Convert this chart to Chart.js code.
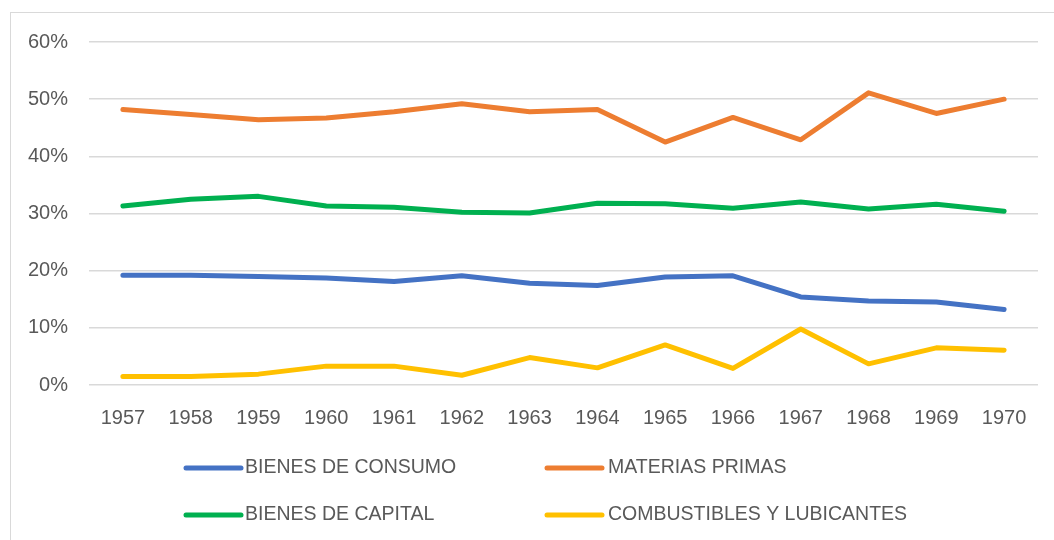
<!DOCTYPE html>
<html>
<head>
<meta charset="utf-8">
<script src="https://cdn.jsdelivr.net/npm/chart.js@4"></script>
<style>
  body { margin: 0; background: #fff; }
  #box {
    position: absolute; left: 10px; top: 12px;
    width: 1043px; height: 527px;
    border-left: 1px solid #d9d9d9; border-top: 1px solid #d9d9d9;
  }
</style>
</head>
<body>
<div id="box"><canvas id="myChart" width="1043" height="527"></canvas></div>
<script>
const years = ['1957', '1958', '1959', '1960', '1961', '1962', '1963', '1964', '1965', '1966', '1967', '1968', '1969', '1970'];
const consumo = [19.2, 19.2, 19.0, 18.7, 18.1, 19.1, 17.8, 17.4, 18.9, 19.1, 15.4, 14.7, 14.5, 13.2];
const materias = [48.2, 47.3, 46.4, 46.7, 47.8, 49.2, 47.8, 48.2, 42.5, 46.8, 42.9, 51.1, 47.5, 50.0];
const capital = [31.3, 32.5, 33.0, 31.3, 31.1, 30.2, 30.1, 31.8, 31.7, 30.9, 32.0, 30.8, 31.6, 30.4];
const combustibles = [1.5, 1.5, 1.9, 3.3, 3.3, 1.7, 4.8, 3.0, 7.0, 2.9, 9.8, 3.7, 6.5, 6.1];
const yTicks = [0, 10, 20, 30, 40, 50, 60];

const textColor = '#595959';
const fontSpec = { family: 'Liberation Sans', size: 20 };

// 2x2 legend like the Excel one
const gridLegend = {
  id: 'gridLegend',
  afterDraw(chart) {
    const c = chart.ctx;
    const cols = [{ line: 175, text: 234 }, { line: 536, text: 597 }];
    const rows = [455, 502];
    c.save();
    c.font = '19.5px "Liberation Sans"';
    c.textBaseline = 'middle';
    chart.data.datasets.forEach((ds, i) => {
      const col = cols[i % 2];
      const y = rows[Math.floor(i / 2)];
      c.strokeStyle = ds.borderColor;
      c.lineWidth = 5;
      c.lineCap = 'round';
      c.beginPath();
      c.moveTo(col.line, y);
      c.lineTo(col.line + 55, y);
      c.stroke();
      c.fillStyle = textColor;
      c.fillText(ds.label, col.text, y);
    });
    c.restore();
  }
};

const ctx = document.getElementById('myChart');

new Chart(ctx, {
  type: 'line',
  data: {
    labels: years,
    datasets: [{
      label: 'BIENES DE CONSUMO',
      data: consumo,
      borderColor: '#4472C4'
    },
    {
      label: 'MATERIAS PRIMAS',
      data: materias,
      borderColor: '#ED7D31'
    },
    {
      label: 'BIENES DE CAPITAL',
      data: capital,
      borderColor: '#00B050'
    },
    {
      label: 'COMBUSTIBLES Y LUBICANTES',
      data: combustibles,
      borderColor: '#FFC000'
    }]
  },
  options: {
    responsive: false,
    animation: false,
    datasets: {
      line: { borderWidth: 5, pointRadius: 0, tension: 0, borderCapStyle: 'round', borderJoinStyle: 'round' }
    },
    layout: { padding: { top: 29, right: 16, left: 0, bottom: 95 } },
    plugins: {
      legend: { display: false },
      tooltip: { enabled: false }
    },
    scales: {
      x: {
        offset: true,
        grid: { display: false },
        border: { display: false },
        ticks: { color: textColor, font: fontSpec, padding: 13, maxRotation: 0 },
        afterFit(scale) { scale.height = 60; }
      },
      y: {
        min: 0,
        max: 60,
        afterBuildTicks(scale) { scale.ticks = yTicks.map(v => ({ value: v })); },
        grid: { color: '#d9d9d9', lineWidth: 1.5, drawTicks: false },
        border: { display: false },
        ticks: {
          color: textColor, font: fontSpec, padding: 21,
          callback: v => v + '%'
        },
        afterFit(scale) {
          scale.width = 78;
          scale.paddingTop = 0;
          scale.paddingBottom = 0;
        }
      }
    }
  },
  plugins: [gridLegend]
});
</script>
</body>
</html>
